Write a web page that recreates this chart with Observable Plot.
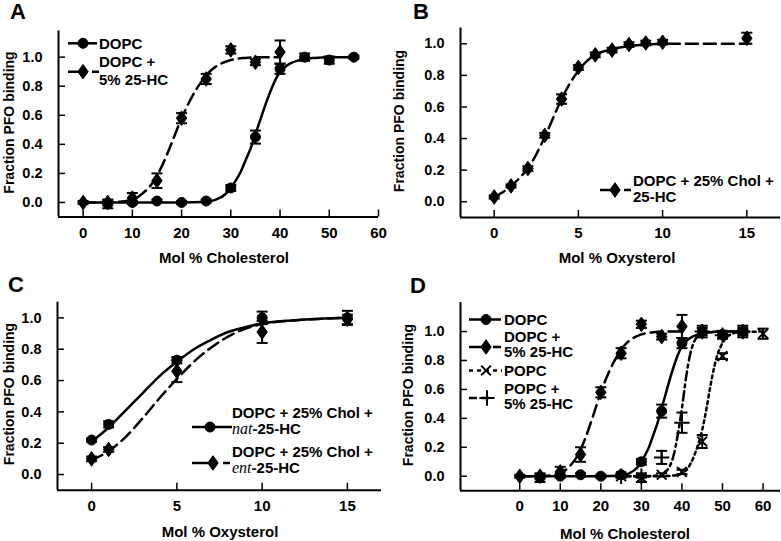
<!DOCTYPE html>
<html><head><meta charset="utf-8">
<script src="https://cdn.jsdelivr.net/npm/d3@7"></script>
<script src="https://cdn.jsdelivr.net/npm/@observablehq/plot@0.6"></script>
<style>
body{margin:0;background:#fff;}
#fig{position:relative;width:781px;height:541px;overflow:hidden;font-family:"Liberation Sans",Arial,sans-serif;}
#fig > svg{position:absolute;}
</style></head><body><div id="fig"></div>
<script>
// ---------- Panel A / D : DOPC and DOPC + 5% 25-HC ----------
const dopcX = [5, 10, 15, 20, 25, 30, 35, 40, 45, 50, 55];
const dopcY = [-0.01, 0.0, 0.01, 0.0, 0.01, 0.10, 0.45, 0.92, 1.00, 0.98, 1.00];
const dopcE = [0.03, 0.01, 0.01, 0.01, 0.01, 0.02, 0.045, 0.035, 0.025, 0.025, 0.01];
const dopcHcX = [0, 5, 10, 15, 20, 25, 30, 35, 40];
const dopcHcY = [0.0, 0.0, 0.03, 0.15, 0.58, 0.85, 1.05, 0.965, 1.035];
const dopcHcE = [0.01, 0.015, 0.035, 0.05, 0.035, 0.035, 0.025, 0.02, 0.08];
const dopcFitX = [0, 10, 20, 25, 27, 29, 30, 31, 32, 33, 34, 35, 36, 37, 38, 39, 40, 42, 44, 47, 50, 55];
const dopcFitY = [0, 0, 0, 0.005, 0.02, 0.06, 0.10, 0.15, 0.21, 0.29, 0.37, 0.47, 0.57, 0.67, 0.76, 0.84, 0.90, 0.955, 0.98, 0.995, 1.0, 1.0];
const dopcHcFitX = [0, 5, 10, 12, 14, 16, 18, 20, 22, 24, 26, 28, 30, 33, 36, 40];
const dopcHcFitY = [0, 0, 0.02, 0.06, 0.13, 0.25, 0.41, 0.58, 0.72, 0.83, 0.91, 0.955, 0.98, 0.995, 1.0, 1.0];
// ---------- Panel D extra : POPC and POPC + 5% 25-HC ----------
const popcX = [25, 30, 35, 40, 45, 50, 55, 60];
const popcY = [0.0, -0.01, 0.01, 0.03, 0.24, 0.83, 1.00, 0.985];
const popcE = [0.01, 0.03, 0.01, 0.015, 0.045, 0.02, 0.04, 0.035];
const popcHcX = [25, 30, 35, 40, 45, 50, 55];
const popcHcY = [0.0, 0.0, 0.13, 0.37, 1.00, 0.975, 1.00];
const popcHcE = [0.01, 0.01, 0.045, 0.07, 0.04, 0.025, 0.02];
const popcFitX = [25, 30, 35, 38, 40, 41, 42, 43, 44, 45, 46, 47, 48, 49, 50, 51, 52, 54, 60];
const popcFitY = [0, 0, 0, 0.005, 0.02, 0.04, 0.08, 0.14, 0.22, 0.32, 0.46, 0.62, 0.76, 0.86, 0.92, 0.96, 0.98, 0.995, 1.0];
const popcHcFitX = [25, 30, 34, 35, 36, 37, 38, 39, 40, 41, 42, 43, 44, 46, 50, 55];
const popcHcFitY = [0, 0, 0.005, 0.01, 0.03, 0.07, 0.15, 0.29, 0.47, 0.68, 0.84, 0.93, 0.97, 0.99, 1.0, 1.0];
// ---------- Panel B : DOPC + 25% Chol + 25-HC ----------
const bX = [0, 1, 2, 3, 4, 5, 6, 7, 8, 9, 10, 15];
const bY = [0.03, 0.10, 0.21, 0.42, 0.65, 0.85, 0.93, 0.96, 0.995, 1.005, 1.01, 1.035];
const bE = [0.01, 0.01, 0.015, 0.015, 0.03, 0.015, 0.015, 0.015, 0.015, 0.015, 0.015, 0.035];
const bFitX = [0, 0.5, 1, 1.5, 2, 2.5, 3, 3.5, 4, 4.5, 5, 5.5, 6, 7, 8, 9, 10, 12, 15];
const bFitY = [0.03, 0.06, 0.10, 0.15, 0.21, 0.30, 0.41, 0.53, 0.65, 0.75, 0.83, 0.89, 0.93, 0.965, 0.985, 0.995, 1.0, 1.0, 1.0];
// ---------- Panel C : nat- vs ent-25-HC ----------
const cX = [0, 1, 5, 10, 15];
const natY = [0.22, 0.32, 0.73, 1.00, 1.00];
const natE = [0.01, 0.02, 0.02, 0.04, 0.045];
const entY = [0.10, 0.16, 0.66, 0.91, 0.99];
const entE = [0.015, 0.015, 0.07, 0.07, 0.03];
const cFitX = [0, 1, 2, 3, 4, 5, 6, 7, 8, 9, 10, 12, 15];
const natFitY = [0.21, 0.30, 0.41, 0.52, 0.63, 0.72, 0.80, 0.86, 0.91, 0.94, 0.965, 0.985, 1.0];
const entFitY = [0.09, 0.15, 0.24, 0.36, 0.49, 0.61, 0.72, 0.81, 0.88, 0.93, 0.96, 0.985, 1.0];
// ---------- ticks & labels ----------
const yTicks = [0, 0.2, 0.4, 0.6, 0.8, 1.0];
const cholTicks = [0, 10, 20, 30, 40, 50, 60];
const oxyTicks = [0, 5, 10, 15];
const yTitle = "Fraction PFO binding";
const cholTitle = "Mol % Cholesterol";
const oxyTitle = "Mol % Oxysterol";
const panelLetters = ["A", "B", "C", "D"];

// ---------- symbols ----------
const capSym = {draw(ctx, size) {const r = Math.sqrt(size / Math.PI); ctx.moveTo(-r, 0); ctx.lineTo(r, 0);}};
const diamondSym = {draw(ctx, size) {const r = Math.sqrt(size / Math.PI); ctx.moveTo(0, -r * 1.4); ctx.lineTo(r, 0); ctx.lineTo(0, r * 1.4); ctx.lineTo(-r, 0); ctx.closePath();}};
const S = {
  circle: {symbol: "circle", r: 5, fill: "black", stroke: "black", strokeWidth: 1},
  diamond: {symbol: diamondSym, r: 5.2, fill: "black", stroke: "black", strokeWidth: 1},
  times: {symbol: "times", r: 4.5, fill: "none", stroke: "black", strokeWidth: 2},
  plus: {symbol: "plus", r: 5, fill: "none", stroke: "black", strokeWidth: 2}
};
const SOLID = null, DASH = "12,6", DOT = "3,3.5", DASHDOT = "9,4,3,4";

const zip = (xs, ys) => xs.map((x, i) => ({x, y: ys[i]}));
function lineMark(xs, ys, dash) {
  return Plot.line(zip(xs, ys), {x: "x", y: "y", curve: "monotone-x", stroke: "black", strokeWidth: 2.5, strokeDasharray: dash});
}
function seriesMarks(xs, ys, es, sym) {
  const rows = xs.map((x, i) => ({x, y: ys[i], lo: ys[i] - es[i], hi: ys[i] + es[i]}));
  return [
    Plot.ruleX(rows, {x: "x", y1: "lo", y2: "hi", stroke: "black", strokeWidth: 2}),
    Plot.dot(rows, {x: "x", y: "hi", symbol: capSym, r: 5.5, stroke: "black", fill: "none", strokeWidth: 2}),
    Plot.dot(rows, {x: "x", y: "lo", symbol: capSym, r: 5.5, stroke: "black", fill: "none", strokeWidth: 2}),
    Plot.dot(rows, {x: "x", y: "y", ...sym})
  ];
}
function panel({left, top, width, height, margin, xDomain, yDomain, xTicks, marks}) {
  const [mT, mR, mB, mL] = margin;
  const svg = Plot.plot({
    width, height, marginTop: mT, marginRight: mR, marginBottom: mB, marginLeft: mL,
    x: {domain: xDomain, label: null}, y: {domain: yDomain, label: null},
    style: {background: "transparent", fontFamily: '"Liberation Sans", Arial, sans-serif', overflow: "visible", color: "black"},
    marks: [
      ...marks,
      Plot.ruleX([xDomain[0]], {stroke: "black", strokeWidth: 2}),
      Plot.ruleY([yDomain[0]], {stroke: "black", strokeWidth: 2}),
      Plot.axisY(yTicks, {label: null, tickSize: -7, tickPadding: 23, strokeWidth: 1.5, tickFormat: d3.format(".1f"), fontSize: 14.5, fontWeight: "bold", fill: "black"}),
      Plot.axisX(xTicks, {label: null, tickSize: -7, tickPadding: 17, strokeWidth: 1.5, fontSize: 15, fontWeight: "bold", fill: "black"})
    ]
  });
  svg.style.left = left + "px";
  svg.style.top = top + "px";
  document.getElementById("fig").appendChild(svg);
}

// Panel A
panel({left: 0, top: 0, width: 390, height: 270, margin: [30.5, 12, 53.5, 58],
  xDomain: [-5, 60], yDomain: [-0.1, 1.18], xTicks: cholTicks,
  marks: [lineMark(dopcFitX, dopcFitY, SOLID), lineMark(dopcHcFitX, dopcHcFitY, DASH),
    ...seriesMarks(dopcX, dopcY, dopcE, S.circle), ...seriesMarks(dopcHcX, dopcHcY, dopcHcE, S.diamond)]});
// Panel B
panel({left: 390, top: 0, width: 391, height: 270, margin: [27.5, 1, 53, 70],
  xDomain: [-2, 17], yDomain: [-0.1, 1.1], xTicks: oxyTicks,
  marks: [lineMark(bFitX, bFitY, DASH), ...seriesMarks(bX, bY, bE, S.diamond)]});
// Panel C
panel({left: 0, top: 270, width: 390, height: 271, margin: [31.7, 9, 51.3, 57],
  xDomain: [-2, 17], yDomain: [-0.1, 1.1], xTicks: oxyTicks,
  marks: [lineMark(cFitX, natFitY, SOLID), lineMark(cFitX, entFitY, DASH),
    ...seriesMarks(cX, natY, natE, S.circle), ...seriesMarks(cX, entY, entE, S.diamond)]});
// Panel D
panel({left: 390, top: 270, width: 391, height: 271, margin: [32.1, 1, 50.8, 70],
  xDomain: [-14.6, 64.3], yDomain: [-0.1, 1.2], xTicks: cholTicks,
  marks: [lineMark(dopcFitX, dopcFitY, SOLID), lineMark(dopcHcFitX, dopcHcFitY, DASH),
    lineMark(popcFitX, popcFitY, DOT), lineMark(popcHcFitX, popcHcFitY, DASHDOT),
    ...seriesMarks(dopcX, dopcY, dopcE, S.circle), ...seriesMarks(dopcHcX, dopcHcY, dopcHcE, S.diamond),
    ...seriesMarks(popcX, popcY, popcE, S.times), ...seriesMarks(popcHcX, popcHcY, popcHcE, S.plus)]});

// ---------- overlay: letters, axis titles, legends ----------
const ov = d3.select("#fig").append("svg").attr("width", 781).attr("height", 541).style("left", "0px").style("top", "0px")
  .style("font-family", '"Liberation Sans", Arial, sans-serif').style("font-weight", "bold");
const letterPos = [[10, 18.5], [413, 18.5], [8, 292], [410, 293]];
panelLetters.forEach((t, i) => ov.append("text").attr("x", letterPos[i][0]).attr("y", letterPos[i][1]).attr("font-size", 22).text(t));
const xTitles = [[cholTitle, 224, 258], [oxyTitle, 617, 258], [oxyTitle, 220, 532], [cholTitle, 625, 534]];
xTitles.forEach(([t, x, y]) => ov.append("text").attr("x", x).attr("y", y).attr("dy", "0.35em").attr("text-anchor", "middle").attr("font-size", 15).text(t));
const yTitlePos = [[9, 122.5], [399, 121], [9, 394], [408, 395]];
yTitlePos.forEach(([x, y]) => ov.append("text").attr("transform", `translate(${x},${y}) rotate(-90)`).attr("dy", "0.35em").attr("text-anchor", "middle").attr("font-size", 14).text(yTitle));

const symPath = (sym) => d3.symbol(typeof sym.symbol === "string" ? {circle: d3.symbolCircle, times: d3.symbolTimes, plus: d3.symbolPlus}[sym.symbol] : sym.symbol, Math.PI * sym.r * sym.r)();
function legendKey(x1, x2, y, dash, sym, sx) {
  ov.append("line").attr("x1", x1).attr("x2", x2).attr("y1", y).attr("y2", y).attr("stroke", "black").attr("stroke-width", 2.5).attr("stroke-dasharray", dash);
  ov.append("path").attr("d", symPath(sym)).attr("transform", `translate(${sx},${y})`).attr("fill", sym.fill).attr("stroke", sym.stroke).attr("stroke-width", sym.strokeWidth);
}
function legendText(x, y, parts) {
  const t = ov.append("text").attr("x", x).attr("y", y).attr("dy", "0.35em").attr("font-size", 15);
  parts.forEach(p => {
    const s = t.append("tspan").text(p.t);
    if (p.it) s.attr("font-family", '"Liberation Serif", serif').attr("font-style", "italic").attr("font-weight", "normal").attr("font-size", 16);
  });
}
// A legend
legendKey(68, 97, 43.3, null, S.circle, 83);
legendText(99, 43.3, [{t: "DOPC"}]);
legendKey(68, 99, 71.7, "14,10", S.diamond, 83);
legendText(99, 61.7, [{t: "DOPC +"}]);
legendText(99, 80, [{t: "5% 25-HC"}]);
// B legend
legendKey(600, 631, 190, "14,10", S.diamond, 615);
legendText(633, 181, [{t: "DOPC + 25% Chol +"}]);
legendText(633, 197, [{t: "25-HC"}]);
// C legend
legendKey(192, 232, 427, null, S.circle, 210);
legendText(232, 413, [{t: "DOPC + 25% Chol +"}]);
legendText(232, 429, [{t: "nat", it: true}, {t: "-25-HC"}]);
legendKey(192, 230, 463, "16,15", S.diamond, 213);
legendText(232, 451.7, [{t: "DOPC + 25% Chol +"}]);
legendText(232, 468, [{t: "ent", it: true}, {t: "-25-HC"}]);
// D legend
legendKey(469, 501, 319.5, null, S.circle, 486);
legendText(504, 319.5, [{t: "DOPC"}]);
legendKey(469, 501, 347, "14,10", S.diamond, 486);
legendText(504, 336.7, [{t: "DOPC +"}]);
legendText(504, 352, [{t: "5% 25-HC"}]);
legendKey(469, 502, 370.5, "4,4", S.times, 486);
legendText(504, 370.5, [{t: "POPC"}]);
legendKey(469, 492, 398, "8,4", S.plus, 487);
legendText(504, 388.5, [{t: "POPC +"}]);
legendText(504, 404, [{t: "5% 25-HC"}]);
</script></body></html>
